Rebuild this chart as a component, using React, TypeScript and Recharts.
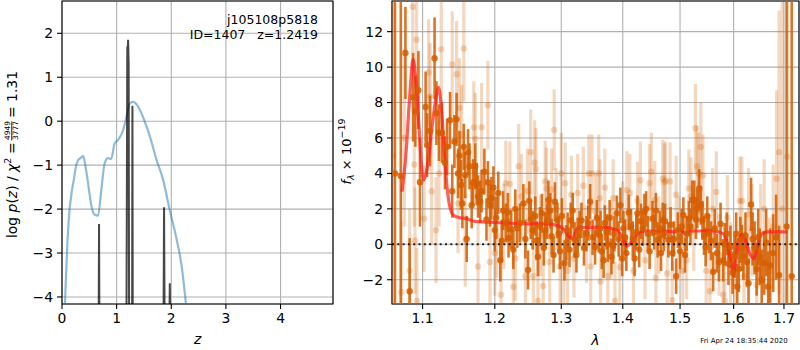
import React from 'react';
import {
  ComposedChart, Line, Scatter, ErrorBar, XAxis, YAxis, CartesianGrid,
  ReferenceLine, ReferenceArea,
} from 'recharts';

const FONT = '"DejaVu Sans", sans-serif';
const ORANGE_DARK = 'rgba(213,94,0,0.86)';
const ORANGE_LIGHT = 'rgba(213,94,0,0.25)';

// ---------------- left panel: log p(z) ----------------
const zTicks = [0, 1, 2, 3, 4];
const logpTicks = [-4, -3, -2, -1, 0, 1, 2];
const zDomain = [0, 4.96];
const logpDomain = [-4.16, 2.735];

const pzZ = [0.05, 0.09, 0.14, 0.18, 0.22, 0.26, 0.30, 0.34, 0.385, 0.42, 0.47, 0.54, 0.60, 0.66, 0.72, 0.78, 0.84, 0.90, 0.965, 1.03, 1.12, 1.18, 1.24, 1.30, 1.39, 1.48, 1.61, 1.73, 1.85, 1.97, 2.10, 2.19, 2.28];
const pzLogP = [-4.3, -3.0, -2.0, -1.6, -1.3, -1.0, -0.88, -0.84, -0.79, -0.95, -1.35, -1.94, -2.13, -2.15, -1.56, -0.96, -0.84, -0.86, -0.5, -0.42, -0.2, 0.1, 0.4, 0.44, 0.34, 0.1, -0.35, -0.88, -1.33, -2.01, -2.7, -3.3, -4.3];

const spikeZ = [0.671, 0.678, 0.685, 0.686, 1.18, 1.195, 1.20, 1.21, 1.22, 1.228, 1.229, 1.283, 1.289, 1.295, 1.296, 1.858, 1.868, 1.878, 1.879, 1.966, 1.973, 1.980];
const spikeLogP = [-4.6, -2.34, -4.6, null, -4.6, 1.7, 1.5, 1.85, 1.3, -4.6, null, -4.6, 0.35, -4.6, null, -4.6, -1.96, -4.6, null, -4.6, -3.69, -4.6];

// ---------------- right panel: spectrum ----------------
const lamTicks = [1.1, 1.2, 1.3, 1.4, 1.5, 1.6, 1.7];
const fluxTicks = [-2, 0, 2, 4, 6, 8, 10, 12];
const lamDomain = [1.0602, 1.7311];
const fluxDomain = [-3.37, 13.73];

// dark points: marked points
const darkLam = [1.064, 1.0715, 1.0775, 1.0830, 1.0875, 1.0905, 1.0945, 1.0965, 1.1040, 1.1060, 1.1100, 1.1160, 1.1185, 1.1220, 1.1260, 1.1300, 1.1370, 1.1400, 1.1460, 1.1500, 1.1520, 1.1560, 1.1600, 1.1640, 1.1690, 1.1720, 1.1760, 1.1790, 1.1850, 1.1900, 1.1930, 1.1980, 1.2050, 1.2080, 1.2120, 1.2160, 1.2200, 1.2240, 1.2300, 1.2370, 1.2420, 1.2490, 1.2510, 1.2560, 1.2600, 1.2640, 1.2700, 1.2750, 1.2800, 1.2850, 1.2900, 1.2940, 1.2980, 1.3050, 1.3100, 1.3150, 1.3210, 1.3260, 1.3320, 1.3400, 1.3460, 1.3540, 1.3600, 1.3650, 1.3700, 1.3750, 1.3810, 1.3860, 1.3900, 1.3960, 1.4010, 1.4060, 1.4140, 1.4200, 1.4250, 1.4310, 1.4370, 1.4430, 1.4510, 1.4600, 1.4690, 1.4730, 1.4790, 1.4860, 1.4930, 1.4960, 1.5060, 1.5120, 1.5160, 1.5220, 1.5260, 1.5315, 1.5350, 1.5410, 1.5470, 1.5530, 1.5610, 1.5680, 1.5750, 1.5800, 1.5870, 1.5940, 1.6020, 1.6070, 1.6130, 1.6190, 1.6290, 1.6340, 1.6410, 1.6510, 1.6600, 1.6680, 1.6780, 1.6900, 1.7055, 1.7160];
const darkFlux = [4.0, 3.85, 10.8, -2.65, 8.3, 7.5, 8.7, 3.5, 7.75, 5.6, 6.4, 10.5, 7.4, 6.3, 6.3, 4.6, 7.0, 3.0, 7.05, 5.0, 3.35, 5.5, 0.3, 4.4, 3.5, 4.4, 2.7, 2.4, 4.1, 3.5, 2.2, 3.2, 2.9, -0.9, 1.9, 1.2, 0.35, 0.85, 2.0, 1.2, 2.3, -1.45, 2.45, 0.8, 1.6, -0.7, 1.75, 0.8, 2.5, 0.45, 2.4, 1.35, -0.4, -1.05, 0.8, 1.35, 0.25, 0.5, 1.35, 0.6, 2.4, -0.15, 0.55, -0.4, 1.2, 0.0, -0.7, 0.6, 1.75, 2.2, 0.9, -0.5, 1.0, -0.8, 1.75, 1.3, 1.85, 0.6, 1.45, 0.25, 1.35, 1.3, 0.25, -0.5, -1.8, 0.8, 1.65, 0.6, 1.45, 2.5, 2.5, 2.0, 3.15, 1.35, -0.15, 0.6, -1.55, -0.5, 1.15, -0.9, 0.6, -0.15, -0.7, -2.4, 0.25, -0.7, -2.2, 2.25, -0.2, -0.7, -1.05, -2.4, -0.5, -1.75, 1.0, -1.8];
const darkErr = [30, 30, 2.6, 3.0, 2.5, 2.0, 2.2, 2.5, 2.0, 1.8, 2.0, 2.3, 1.8, 1.6, 1.7, 1.5, 1.6, 1.5, 1.5, 1.4, 1.4, 1.3, 1.3, 1.3, 1.3, 1.3, 1.2, 1.2, 1.3, 1.2, 1.2, 1.2, 1.2, 1.2, 1.1, 1.1, 1.1, 1.1, 1.1, 1.1, 1.1, 1.1, 1.1, 1.1, 1.1, 1.1, 1.1, 1.0, 1.1, 1.0, 1.1, 1.0, 1.0, 1.0, 1.0, 1.0, 1.0, 1.0, 1.0, 1.0, 1.0, 1.0, 1.0, 1.0, 1.0, 1.0, 1.0, 1.0, 1.0, 1.0, 1.0, 1.0, 1.0, 1.0, 1.0, 1.0, 1.0, 1.0, 1.0, 1.0, 1.0, 1.0, 1.0, 1.0, 1.0, 1.0, 1.0, 1.0, 1.0, 1.1, 1.1, 1.1, 1.1, 1.1, 1.1, 1.1, 1.1, 1.1, 1.2, 1.2, 1.2, 1.2, 1.2, 1.3, 1.3, 1.3, 1.4, 1.5, 1.5, 1.6, 1.8, 2.0, 2.2, 2.8, 30, 30];

// dark points: further bars in the dense cloud
const darkCloudLam = [1.1330, 1.1430, 1.1480, 1.1540, 1.1580, 1.1620, 1.1670, 1.1740, 1.1810, 1.1880, 1.1950, 1.2000, 1.2020, 1.2100, 1.2190, 1.2270, 1.2330, 1.2450, 1.2530, 1.2620, 1.2670, 1.2730, 1.2780, 1.2830, 1.2880, 1.2960, 1.3010, 1.3080, 1.3130, 1.3180, 1.3240, 1.3290, 1.3360, 1.3430, 1.3500, 1.3570, 1.3630, 1.3680, 1.3730, 1.3780, 1.3840, 1.3930, 1.3990, 1.4040, 1.4100, 1.4170, 1.4230, 1.4280, 1.4340, 1.4400, 1.4460, 1.4540, 1.4570, 1.4640, 1.4660, 1.4710, 1.4830, 1.4890, 1.5000, 1.5030, 1.5090, 1.5190, 1.5290, 1.5380, 1.5440, 1.5500, 1.5570, 1.5640, 1.5720, 1.5830, 1.5900, 1.5980, 1.6050, 1.6100, 1.6160, 1.6230, 1.6260, 1.6370, 1.6450, 1.6480, 1.6550, 1.6640, 1.6720, 1.6840];
const darkCloudFlux = [5.5, 5.8, 4.0, 2.3, 3.9, 5.2, 2.2, 3.4, 3.0, 1.4, 2.6, 0.8, 1.5, 0.2, 1.8, -0.3, 0.9, 0.3, 1.4, 0.2, 1.0, -0.2, 1.3, 1.9, -0.6, 0.6, 1.6, 0.1, -0.3, 1.9, -0.6, 0.9, -0.2, 1.2, 0.4, 1.5, 0.9, -0.9, 0.7, 1.5, -0.1, 0.3, -0.8, 0.4, 1.8, 0.3, 0.7, -0.3, 0.9, 2.0, -0.4, 0.7, 1.9, 0.9, -0.5, 0.6, 1.1, 0.3, -0.4, 1.0, -0.6, 1.0, 1.4, 2.2, 0.5, 1.6, 0.2, 0.9, -1.0, 0.0, -1.1, -1.6, 0.6, -1.4, -0.2, 0.5, -1.0, 0.3, -1.4, 0.4, -2.0, 0.1, -1.2, 0.4];
const darkCloudErr = [1.6, 1.5, 1.4, 1.4, 1.3, 1.3, 1.3, 1.2, 1.2, 1.2, 1.2, 1.2, 1.2, 1.2, 1.1, 1.1, 1.1, 1.1, 1.1, 1.1, 1.1, 1.0, 1.0, 1.0, 1.0, 1.0, 1.0, 1.0, 1.0, 1.0, 1.0, 1.0, 1.0, 1.0, 1.0, 1.0, 1.0, 1.0, 1.0, 1.0, 1.0, 1.0, 1.0, 1.0, 1.0, 1.0, 1.0, 1.0, 1.0, 1.0, 1.0, 1.0, 1.0, 1.0, 1.0, 1.0, 1.0, 1.0, 1.0, 1.0, 1.0, 1.0, 1.1, 1.1, 1.1, 1.1, 1.1, 1.1, 1.1, 1.2, 1.2, 1.2, 1.2, 1.3, 1.3, 1.3, 1.4, 1.5, 1.5, 1.6, 1.7, 1.9, 2.1, 2.4];

// light points
const lightLam = [1.062, 1.0720, 1.0760, 1.0830, 1.0870, 1.0890, 1.0900, 1.0920, 1.0925, 1.1020, 1.1080, 1.1100, 1.1120, 1.1180, 1.1220, 1.1250, 1.1400, 1.1460, 1.1480, 1.1500, 1.1530, 1.1560, 1.1580, 1.1700, 1.1720, 1.1760, 1.1810, 1.1900, 1.1930, 1.2030, 1.2090, 1.2160, 1.2220, 1.2270, 1.2350, 1.2390, 1.2450, 1.2530, 1.2570, 1.2590, 1.2610, 1.2640, 1.2720, 1.2750, 1.2770, 1.2850, 1.2890, 1.2980, 1.3000, 1.3040, 1.3060, 1.3100, 1.3160, 1.3260, 1.3440, 1.3470, 1.3490, 1.3600, 1.3620, 1.3630, 1.3750, 1.3840, 1.3870, 1.4000, 1.4070, 1.4120, 1.4250, 1.4460, 1.4490, 1.4570, 1.4690, 1.4720, 1.4740, 1.4770, 1.4820, 1.4860, 1.5050, 1.5160, 1.5200, 1.5280, 1.5310, 1.5340, 1.5380, 1.5420, 1.5550, 1.5670, 1.5800, 1.5830, 1.5940, 1.6120, 1.6160, 1.6360, 1.6530, 1.6850, 1.6900, 1.6965, 1.7070];
const lightFlux = [5.0, -2.7, 6.0, -1.5, 13.4, 4.5, 0.2, 11.55, -3.2, 1.45, 9.7, 8.35, 3.0, 0.8, 4.0, 11.0, 10.15, 9.6, 2.3, 7.7, 6.2, 11.05, 0.2, 6.6, 5.95, -1.25, 6.6, 7.85, -1.0, 0.5, -2.85, 3.45, 3.4, -2.4, 4.4, 2.7, -1.8, 5.2, -1.8, 4.6, 4.25, -3.2, -2.35, 3.55, 3.15, 3.1, 6.45, -1.25, 4.0, -1.2, 3.45, -1.5, 2.8, 2.9, 4.0, -1.25, 4.0, 4.0, 2.6, -2.1, -1.8, 2.6, -3.2, 1.35, 3.05, 2.9, 2.45, 3.45, 4.1, -1.9, 3.7, 3.5, 3.6, -1.65, 3.55, -3.15, -1.5, 3.15, 2.7, 6.55, 4.4, 4.0, 5.5, 3.9, -2.65, 2.95, -2.85, -3.2, -1.15, 2.45, 2.45, 0.8, 0.6, 3.7, 5.2, 2.0, 4.95];
const lightErr = [30, 4.0, 5.0, 3.5, 3.5, 3.5, 3.0, 3.0, 3.0, 3.0, 3.0, 3.0, 3.0, 3.0, 3.0, 3.0, 3.0, 3.0, 2.8, 2.8, 2.8, 3.0, 2.6, 2.6, 2.6, 2.5, 2.5, 2.5, 2.5, 2.4, 2.4, 2.4, 2.4, 2.4, 2.4, 2.4, 2.4, 2.4, 2.4, 2.4, 2.3, 2.3, 2.3, 2.3, 2.3, 2.3, 2.3, 2.3, 2.3, 2.3, 2.3, 2.2, 2.2, 2.2, 2.2, 2.2, 2.2, 2.2, 2.2, 2.2, 2.2, 2.2, 2.2, 2.2, 2.2, 2.2, 2.2, 2.2, 2.2, 2.2, 2.2, 2.2, 2.2, 2.2, 2.2, 2.2, 2.2, 2.2, 2.2, 2.5, 2.3, 2.3, 2.5, 2.3, 2.3, 2.3, 2.4, 2.4, 2.4, 2.5, 2.5, 2.6, 2.8, 5.0, 8.0, 30, 30];

const lightCloudLam = [1.2000, 1.2130, 1.2300, 1.2480, 1.2680, 1.2820, 1.2920, 1.3200, 1.3350, 1.3400, 1.3550, 1.3700, 1.3800, 1.3950, 1.4180, 1.4300, 1.4380, 1.4550, 1.4620, 1.4930, 1.4980, 1.5120, 1.5250, 1.5480, 1.5600, 1.5720, 1.5880, 1.6020, 1.6200, 1.6290, 1.6450, 1.6600, 1.6700, 1.6780];
const lightCloudFlux = [-0.5, 1.0, -0.8, 3.0, 0.5, -1.0, 2.0, -0.8, 3.3, 0.0, 1.8, 3.2, 0.2, -1.3, -1.5, 3.6, -0.9, 2.5, 0.5, 2.8, 0.5, -0.9, 0.8, -1.5, 2.0, -0.6, 1.5, -2.2, -1.8, 1.7, -2.3, 2.0, -1.5, 1.0];
const lightCloudErr = [2.4, 2.4, 2.4, 2.4, 2.3, 2.3, 2.3, 2.2, 2.2, 2.2, 2.2, 2.2, 2.2, 2.2, 2.2, 2.2, 2.2, 2.2, 2.2, 2.2, 2.2, 2.2, 2.3, 2.3, 2.3, 2.3, 2.4, 2.4, 2.5, 2.6, 2.7, 2.8, 3.0, 3.5];

// red model
const modelLam = [1.073, 1.078, 1.083, 1.0874, 1.091, 1.095, 1.099, 1.1013, 1.106, 1.112, 1.118, 1.1213, 1.125, 1.129, 1.133, 1.1372, 1.143, 1.151, 1.160, 1.170, 1.190, 1.215, 1.253, 1.280, 1.298, 1.305, 1.313, 1.317, 1.321, 1.326, 1.337, 1.370, 1.390, 1.400, 1.407, 1.414, 1.425, 1.437, 1.455, 1.471, 1.488, 1.500, 1.510, 1.519, 1.562, 1.580, 1.588, 1.594, 1.600, 1.603, 1.610, 1.616, 1.623, 1.631, 1.640, 1.646, 1.654, 1.666, 1.685, 1.707];
const modelFlux = [2.97, 5.0, 8.3, 10.43, 9.3, 6.8, 4.2, 3.63, 4.3, 6.4, 8.3, 8.85, 7.8, 5.3, 3.2, 2.03, 1.6, 1.5, 1.45, 1.3, 1.25, 1.2, 1.15, 1.15, 1.0, 0.8, 0.4, 0.3, 0.55, 0.9, 0.95, 0.95, 0.8, 0.35, -0.1, 0.1, 0.6, 0.75, 0.75, 0.75, 0.7, 0.8, 0.6, 0.75, 0.75, 0.6, 0.05, -0.9, -1.75, -1.1, 0.25, 0.55, 0.25, -0.5, -0.8, -0.2, 0.55, 0.7, 0.7, 0.7];

// ---------------- tables built from the arrays ----------------
// error bars are limited to the visible y range (the plot frame clips them in the original)
const clampErr = (y: number, e: number) => [
  Math.max(0, Math.min(e, y - fluxDomain[0])),
  Math.max(0, Math.min(e, fluxDomain[1] - y)),
];
const toPts = (lam: number[], flux: number[], err: number[]) =>
  lam.map((x, i) => ({ x, y: flux[i], e: clampErr(flux[i], err[i]) }));

const pzData = pzZ.map((x, i) => ({ x, y: pzLogP[i] }));
const spikeData = spikeZ.map((x, i) => ({ x, y: spikeLogP[i] }));
const darkData = [...toPts(darkLam, darkFlux, darkErr), ...toPts(darkCloudLam, darkCloudFlux, darkCloudErr)];
const lightData = [...toPts(lightLam, lightFlux, lightErr), ...toPts(lightCloudLam, lightCloudFlux, lightCloudErr)];
const modelData = modelLam.map((x, i) => ({ x, y: modelFlux[i] }));

const fmtMinus = (v: number) => (v < 0 ? '\u2212' + Math.abs(v) : String(v));
const tickStyle = { fill: '#000', fontSize: 13.9, fontFamily: FONT };
const tickLine = { stroke: '#000', strokeWidth: 1.1 };

const makeDot = (fill: string, r: number) => (props: any) =>
  <circle cx={props.cx} cy={props.cy} r={r} fill={fill} />;

function LeftPanel() {
  return (
    <ComposedChart width={340} height={350} margin={{ top: 1, right: 7, bottom: 0, left: 0 }}>
      <CartesianGrid stroke="#b0b0b0" strokeWidth={1.1} />
      <XAxis dataKey="x" type="number" domain={zDomain} ticks={zTicks} allowDataOverflow
        height={46} axisLine={false} tick={tickStyle} tickLine={tickLine} tickSize={5} tickMargin={4} />
      <YAxis dataKey="y" type="number" domain={logpDomain} ticks={logpTicks} allowDataOverflow
        width={62} axisLine={false} tick={tickStyle} tickLine={tickLine} tickSize={5} tickMargin={4}
        tickFormatter={fmtMinus} />
      <Line data={pzData} dataKey="y" type="monotone" stroke="#1f77b4" strokeOpacity={0.5}
        strokeWidth={2.2} dot={false} isAnimationActive={false} />
      <Line data={spikeData} dataKey="y" type="linear" stroke="#000" strokeOpacity={0.72}
        strokeWidth={2} dot={false} isAnimationActive={false} connectNulls={false} />
      <ReferenceArea x1={zDomain[0]} x2={zDomain[1]} y1={logpDomain[0]} y2={logpDomain[1]}
        fill="none" stroke="#000" strokeWidth={1.1} ifOverflow="visible" />
    </ComposedChart>
  );
}

function RightPanel() {
  return (
    <ComposedChart width={460} height={350} margin={{ top: 1, right: 1, bottom: 0, left: 0 }}>
      <CartesianGrid stroke="#b0b0b0" strokeWidth={1.1} />
      <XAxis dataKey="x" type="number" scale="log" domain={lamDomain} ticks={lamTicks} allowDataOverflow
        height={46} axisLine={false} tick={tickStyle} tickLine={tickLine} tickSize={5} tickMargin={4}
        tickFormatter={(v: number) => v.toFixed(1)} />
      <YAxis dataKey="y" type="number" domain={fluxDomain} ticks={fluxTicks} allowDataOverflow
        width={52} axisLine={false} tick={tickStyle} tickLine={tickLine} tickSize={5} tickMargin={4}
        tickFormatter={fmtMinus} />
      <Scatter data={lightData} dataKey="y" shape={makeDot(ORANGE_LIGHT, 3.2)} isAnimationActive={false}>
        <ErrorBar dataKey="e" direction="y" width={0} stroke={ORANGE_LIGHT} strokeWidth={3.2} />
      </Scatter>
      <Scatter data={darkData} dataKey="y" shape={makeDot(ORANGE_DARK, 3.2)} isAnimationActive={false}>
        <ErrorBar dataKey="e" direction="y" width={0} stroke={ORANGE_DARK} strokeWidth={2.6} />
      </Scatter>
      <Line data={modelData} dataKey="y" type="monotone" stroke="#ff1a1a" strokeOpacity={0.7}
        strokeWidth={3.2} dot={false} isAnimationActive={false} />
      <ReferenceLine y={0} stroke="#000" strokeOpacity={0.85} strokeWidth={2} strokeDasharray="2 3.3" />
      <ReferenceArea x1={lamDomain[0]} x2={lamDomain[1]} y1={fluxDomain[0]} y2={fluxDomain[1]}
        fill="none" stroke="#000" strokeWidth={1.1} ifOverflow="visible" />
    </ComposedChart>
  );
}

function TextLayer() {
  return (
    <svg width={800} height={350} style={{ position: 'absolute', left: 0, top: 0, pointerEvents: 'none' }}
      fontFamily={FONT} fill="#000">
      <text x={318} y={24} fontSize={12.5} textAnchor="end">j105108p5818</text>
      <text x={318} y={39} fontSize={12.5} textAnchor="end" style={{ whiteSpace: 'pre' }}>{'ID=1407   z=1.2419'}</text>
      <text x={197.6} y={343.5} fontSize={14} fontStyle="italic" textAnchor="middle">z</text>
      <text x={595.5} y={345} fontSize={14} fontStyle="italic" textAnchor="middle">λ</text>
      <text x={787.7} y={342.5} fontSize={7} textAnchor="end">Fri Apr 24 18:35:44 2020</text>
      <g transform="translate(17,238) rotate(-90)">
        <text x={0} y={0} fontSize={13.9} style={{ whiteSpace: 'pre' }}>
          {'log '}<tspan fontStyle="italic">p</tspan>{'('}<tspan fontStyle="italic">z</tspan>{') / '}
          <tspan fontStyle="italic">χ</tspan><tspan fontSize={9.5} dy={-6}>2</tspan>
        </text>
        <text x={84} y={0} fontSize={13.9}>=</text>
        <text x={98} y={-7} fontSize={7.5}>4949</text>
        <line x1={97.5} x2={116.5} y1={-5.3} y2={-5.3} stroke="#000" strokeWidth={0.8} />
        <text x={98} y={0.5} fontSize={7.5}>3777</text>
        <text x={120} y={0} fontSize={13.9} style={{ whiteSpace: 'pre' }}>{'= 1.31'}</text>
      </g>
      <g transform="translate(351,151.5) rotate(-90)">
        <text x={0} y={0} fontSize={13} textAnchor="middle" style={{ whiteSpace: 'pre' }}>
          <tspan fontStyle="italic">f</tspan><tspan fontSize={9.5} fontStyle="italic" dy={3}>λ</tspan>
          <tspan dy={-3}>{' × 10'}</tspan><tspan fontSize={9.5} dy={-6}>{'\u221219'}</tspan>
        </text>
      </g>
    </svg>
  );
}

export default function App() {
  return (
    <div style={{ position: 'absolute', left: 0, top: 0, width: 800, height: 350, background: '#fff', fontFamily: FONT }}>
      <div style={{ position: 'absolute', left: 0, top: 0 }}><LeftPanel /></div>
      <div style={{ position: 'absolute', left: 340, top: 0 }}><RightPanel /></div>
      <TextLayer />
    </div>
  );
}
